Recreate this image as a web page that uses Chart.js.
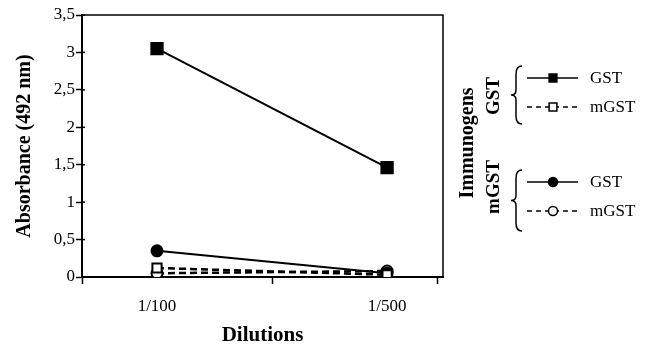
<!DOCTYPE html>
<html>
<head>
<meta charset="utf-8">
<script src="https://cdn.jsdelivr.net/npm/chart.js@4/dist/chart.umd.min.js"></script>
<style>
  body { margin: 0; background: #fff; }
</style>
</head>
<body>
<canvas id="absorbanceChart" width="655" height="348"></canvas>
<script>
// dilution categories and absorbance values (492 nm)
var dilutions = ['1/100', '1/500'];
var immunogens = ['GST', 'mGST'];
var antigens = ['GST', 'mGST'];
var gstOnGst = [3.05, 1.46];
var gstOnMgst = [0.12, 0.03];
var mgstOnGst = [0.35, 0.05];
var mgstOnMgst = [0.05, 0.08];
var yTicks = [0, 0.5, 1, 1.5, 2, 2.5, 3, 3.5];

var serif = '"Liberation Serif", "Times New Roman", serif';

function points(values) {
  return values.map(function (v, i) { return { x: i + 1, y: v }; });
}

function series(values, style, filled, dashed, radius) {
  return {
    data: points(values),
    borderColor: '#000',
    borderWidth: dashed ? 2.5 : 2,
    borderDash: dashed ? [7, 4] : [],
    pointStyle: style,
    pointRadius: radius,
    pointBorderWidth: 2,
    pointBorderColor: '#000',
    pointBackgroundColor: filled ? '#000' : '#fff',
    tension: 0
  };
}

var datasets = [
  series(gstOnGst, 'rect', true, false, 8),
  series(gstOnMgst, 'rect', false, true, 6.5),
  series(mgstOnGst, 'circle', true, false, 5.5),
  series(mgstOnMgst, 'circle', false, true, 5.5)
];

// frame on top / right and the bracketed legend on the right
var sidePlugin = {
  id: 'sidePlugin',
  afterDatasetsDraw: function (chart) {
    var ctx = chart.ctx;
    var a = chart.chartArea;
    ctx.save();
    ctx.strokeStyle = '#000';
    ctx.lineWidth = 1.5;
    ctx.beginPath();
    ctx.moveTo(a.left, a.top);
    ctx.lineTo(a.right, a.top);
    ctx.lineTo(a.right, a.bottom);
    ctx.stroke();
    // y ticks poke a little into the plot
    var ys = chart.scales.y;
    ys.ticks.forEach(function (t) {
      var py = ys.getPixelForValue(t.value);
      ctx.beginPath();
      ctx.moveTo(a.left, py);
      ctx.lineTo(a.left + 3, py);
      ctx.stroke();
    });
    ctx.restore();
  },
  afterDraw: function (chart) {
    var ctx = chart.ctx;
    ctx.save();
    ctx.fillStyle = '#000';
    ctx.strokeStyle = '#000';

    function vText(txt, x, y, font) {
      ctx.save();
      ctx.translate(x, y);
      ctx.rotate(-Math.PI / 2);
      ctx.font = font;
      ctx.textAlign = 'center';
      ctx.textBaseline = 'middle';
      ctx.fillText(txt, 0, 0);
      ctx.restore();
    }

    vText('Immunogens', 468, 143, 'bold 20px ' + serif);

    var groups = [{ top: 66, bottom: 124, label: 96 }, { top: 170, bottom: 231, label: 187 }];
    groups.forEach(function (g, gi) {
      vText(immunogens[gi], 494, g.label, 'bold 19px ' + serif);

      // brace
      var mid = (g.top + g.bottom) / 2;
      ctx.lineWidth = 1.5;
      ctx.setLineDash([]);
      ctx.beginPath();
      ctx.moveTo(522, g.top);
      ctx.quadraticCurveTo(516, g.top, 516, g.top + 8);
      ctx.lineTo(516, mid - 5);
      ctx.quadraticCurveTo(516, mid, 511, mid);
      ctx.quadraticCurveTo(516, mid, 516, mid + 5);
      ctx.lineTo(516, g.bottom - 8);
      ctx.quadraticCurveTo(516, g.bottom, 522, g.bottom);
      ctx.stroke();

      // rows
      var rowsY = [g.top + 12, g.top + 41];
      rowsY.forEach(function (y, ri) {
        var ds = chart.data.datasets[gi * 2 + ri];
        ctx.lineWidth = 1.5;
        ctx.setLineDash(ds.borderDash.length ? [5, 4] : []);
        ctx.beginPath();
        ctx.moveTo(527, y);
        ctx.lineTo(578, y);
        ctx.stroke();
        ctx.setLineDash([]);
        ctx.fillStyle = ds.pointBackgroundColor;
        ctx.lineWidth = 1.5;
        Chart.helpers.drawPoint(ctx, {
          pointStyle: ds.pointStyle,
          rotation: 0,
          radius: ds.pointStyle === 'rect' ? 5.5 : 4.5,
          borderWidth: 1.5
        }, 553, y);
        ctx.fillStyle = '#000';
        ctx.font = '17px ' + serif;
        ctx.textAlign = 'left';
        ctx.textBaseline = 'middle';
        ctx.fillText(antigens[ri], 590, y + 1);
      });
    });
    ctx.restore();
  }
};

var ctx = document.getElementById('absorbanceChart').getContext('2d');
var chart = new Chart(ctx, {
  type: 'line',
  data: { datasets: datasets },
  plugins: [sidePlugin],
  options: {
    responsive: false,
    animation: false,
    layout: { padding: { top: 15, right: 212, left: 0, bottom: 0 } },
    plugins: { legend: { display: false }, tooltip: { enabled: false } },
    scales: {
      x: {
        type: 'linear',
        min: 0.674,
        max: 2.243,
        afterBuildTicks: function (scale) {
          scale.ticks = [0.674, 1, 1.5, 2, 2.217].map(function (v) { return { value: v }; });
        },
        afterFit: function (scale) { scale.height = 71; },
        border: { color: '#000', width: 2 },
        grid: {
          drawOnChartArea: false,
          tickLength: 7,
          tickWidth: 1.5,
          tickColor: function (c) {
            var v = c.tick ? c.tick.value : 0;
            return (v === 1 || v === 2) ? 'rgba(0,0,0,0)' : '#000';
          }
        },
        ticks: {
          autoSkip: false,
          maxRotation: 0,
          padding: 12,
          color: '#000',
          font: { family: serif, size: 17 },
          callback: function (v) {
            return (v === 1 || v === 2) ? dilutions[v - 1] : '';
          }
        },
        title: {
          display: true,
          text: 'Dilutions',
          color: '#000',
          padding: { top: 0, bottom: 0 },
          font: { family: serif, size: 21, weight: 'bold' }
        }
      },
      y: {
        min: 0,
        max: 3.5,
        afterBuildTicks: function (scale) {
          scale.ticks = yTicks.map(function (v) { return { value: v }; });
        },
        afterFit: function (scale) { scale.width = 82; },
        border: { color: '#000', width: 2 },
        grid: { drawOnChartArea: false, tickLength: 6, tickWidth: 1.5, tickColor: '#000' },
        ticks: {
          padding: 1,
          color: '#000',
          font: { family: serif, size: 17 },
          callback: function (v) { return String(v).replace('.', ','); }
        },
        title: {
          display: true,
          text: 'Absorbance (492 nm)',
          color: '#000',
          padding: { top: 13, bottom: 0 },
          font: { family: serif, size: 20, weight: 'bold' }
        }
      }
    }
  }
});
</script>
</body>
</html>
